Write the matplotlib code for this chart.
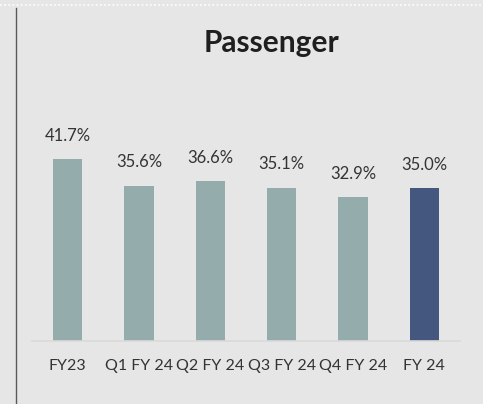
import matplotlib.pyplot as plt
from matplotlib.lines import Line2D

# dados do gráfico
categorias = ["FY23", "Q1 FY 24", "Q2 FY 24", "Q3 FY 24", "Q4 FY 24", "FY 24"]
valores = [41.7, 35.6, 36.6, 35.1, 32.9, 35.0]
rotulos = ["41.7%", "35.6%", "36.6%", "35.1%", "32.9%", "35.0%"]
cores = ["#95acac"] * 5 + ["#44577f"]

plt.rcParams['font.family'] = ['Lato', 'DejaVu Sans']

fundo = "#e6e6e6"
fig = plt.figure(figsize=(4.83, 4.04), dpi=100, facecolor=fundo)
W, H = 483, 404

# eixo: baseline em y=340.7px, de x=32 a x=460
ymax = 50
px_por_unidade = 4.357
base = 340.7
topo = base - ymax * px_por_unidade
ax = fig.add_axes([32 / W, (H - base) / H, (460 - 32) / W, (base - topo) / H])
ax.set_facecolor(fundo)

x = range(len(categorias))
barras = ax.bar(x, valores, width=0.41, color=cores, zorder=2)
ax.set_xlim(-0.5, len(categorias) - 0.5)
ax.set_ylim(0, ymax)

for b, r in zip(barras, rotulos):
    ax.annotate(r, (b.get_x() + b.get_width() / 2, b.get_height()),
                xytext=(0, 11), textcoords="offset points",
                ha="center", va="bottom", fontsize=12, color="#333333")

ax.set_xticks(list(x))
ax.set_xticklabels(categorias, fontsize=11.5, color="#333333")
ax.tick_params(axis="x", length=0, pad=13)
ax.set_yticks([])
for lado in ["top", "right", "left"]:
    ax.spines[lado].set_visible(False)
ax.spines["bottom"].set_color("#d9d9d9")
ax.spines["bottom"].set_linewidth(1.2)

# título
fig.text(272 / W, 1 - 43 / H, "Passenger", ha="center", va="center",
         fontsize=21.5, fontweight="bold", color="#1f1f1f")

# linha vertical à esquerda e linha pontilhada no topo
fig.add_artist(Line2D([15.5 / W, 15.5 / W], [0, 1 - 8 / H], color="#595959", linewidth=1))
fig.add_artist(Line2D([0, 1], [1 - 5 / H, 1 - 5 / H], color="white", linewidth=1.2,
                      linestyle=(0, (1, 1.5))))

fig.savefig("out.png", dpi=100, facecolor=fundo)
